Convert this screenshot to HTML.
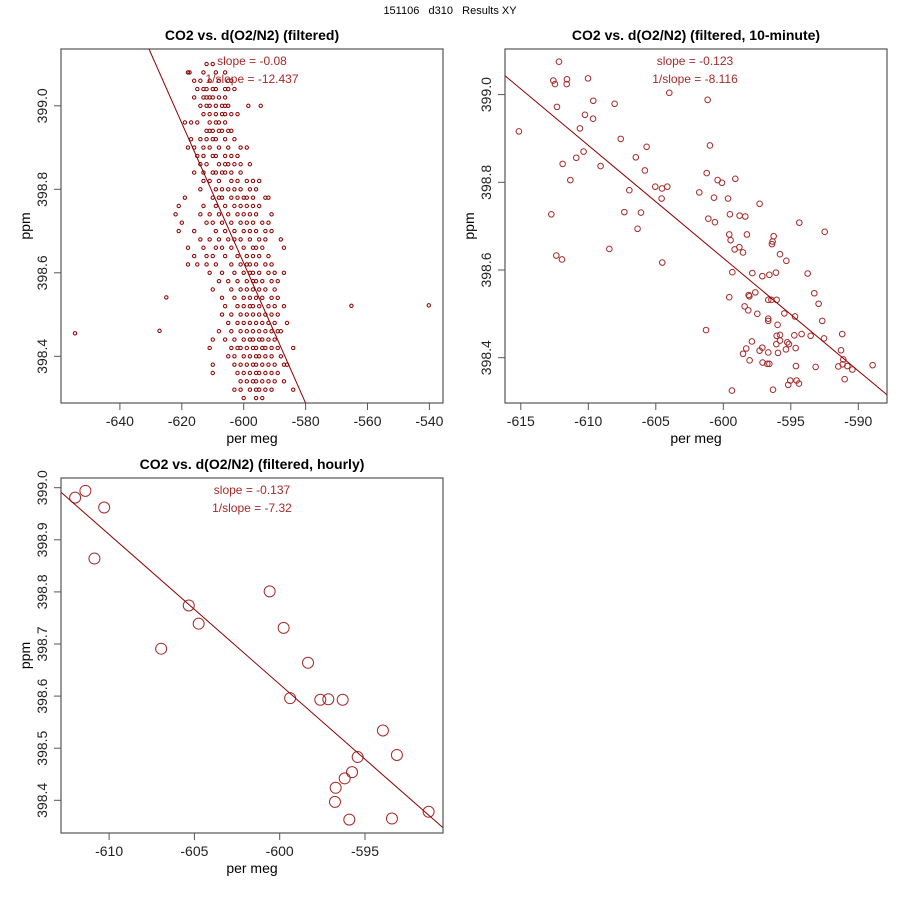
<!DOCTYPE html>
<html><head><meta charset="utf-8"><style>
body{margin:0;background:#fff;}
svg{display:block;font-family:"Liberation Sans",sans-serif;}
</style></head><body>
<svg id="chart" width="900" height="900" viewBox="0 0 900 900">
<text x="450" y="14" font-size="11" text-anchor="middle" fill="#000" style="white-space:pre" xml:space="preserve">151106   d310   Results XY</text>
</svg>
<script>
// Panel 1 data: rows of y with x values
const p1RowY = [399.10,399.08,399.06,399.04,399.02,399.00,398.98,398.96,398.94,398.92,398.90,398.88,398.86,398.84,398.82,398.80,398.78,398.76,398.74,398.72,398.70,398.68,398.66,398.64,398.62,398.60,398.58,398.56,398.54,398.52,398.50,398.48,398.46,398.44,398.42,398.40,398.38,398.36,398.34,398.32,398.30];
const p1RowX = [
[-612,-610],
[-618,-617.5,-613,-609,-606],
[-616,-614,-611,-608,-604,-605],
[-615,-613,-612,-610,-609,-606,-605,-603],
[-616,-613,-612,-611,-610,-608,-606],
[-614,-612,-611,-607,-606,-605,-609,-598.5,-594.5],
[-613,-611,-609,-607,-606,-602,-604],
[-619,-617,-615,-611,-609,-608,-606],
[-612,-611,-610,-608,-607,-605,-604],
[-617,-614,-612,-610,-609,-606,-603],
[-618,-616,-613,-611,-608,-605,-601,-599],
[-615,-613,-610,-609,-606,-604,-602],
[-614,-612,-608,-606,-605,-603,-601,-598],
[-616,-613,-610,-609,-607,-606,-604,-601],
[-613,-611,-608,-604,-602,-599,-597,-595],
[-614,-609,-607,-605,-603,-601,-598,-596],
[-619,-610,-608,-607,-604,-602,-600,-599,-597,-593,-592],
[-621,-613,-609,-606,-603,-601,-599,-597,-595],
[-622,-614,-611,-608,-605,-602,-600,-598,-596,-591],
[-620,-612,-610,-607,-604,-601,-599,-597,-594,-592],
[-621,-616,-609,-606,-603,-600,-598,-596,-593,-591],
[-614,-611,-608,-605,-603,-601,-598,-595,-593,-588],
[-618,-613,-609,-607,-604,-600,-597,-596,-594,-587],
[-616,-612,-610,-606,-602,-599,-597,-595,-592],
[-618,-615,-612,-609,-604,-601,-599,-598,-596,-593,-591],
[-611,-607,-603,-600,-598,-597,-595,-592,-590,-587],
[-608,-605,-602,-599,-597,-596,-594,-591,-589],
[-610,-604,-601,-599,-597,-595,-593,-590],
[-607,-603,-600,-598,-596,-594,-591,-589],
[-606,-602,-600,-598,-597,-595,-592,-590,-587],
[-607,-604,-601,-599,-597,-595,-593,-591,-589],
[-605,-602,-600,-598,-596,-594,-592,-590,-586],
[-608,-604,-601,-599,-597,-595,-593,-591,-589,-588],
[-606,-603,-600,-598,-597,-595,-594,-592,-590,-610],
[-604,-602,-601,-599,-597,-596,-594,-593,-591,-589,-584,-611],
[-605,-603,-600,-598,-596,-595,-593,-591,-588],
[-603,-601,-599,-597,-596,-594,-592,-590,-587,-586,-610],
[-602,-600,-598,-596,-595,-593,-591,-589,-610],
[-601,-599,-597,-596,-594,-592,-590,-587],
[-603,-601,-598,-596,-595,-593,-591,-584],
[-600,-596,-594]
];
const p1OutX = [-654.5,-627.2,-625.0,-565.2,-540.2];
const p1OutY = [398.455,398.461,398.541,398.521,398.522];
const p1LineX = [-630.6,-580.0];
const p1LineY = [399.136,398.288];
const p1XTicks = [-640,-620,-600,-580,-560,-540];
const p1YTicks = [398.4,398.6,398.8,399.0];

// Panel 2 data
const p2X = [-615.14,-612.17,-612.59,-612.47,-611.58,-611.60,-610.02,-612.32,-609.63,-608.05,-610.25,-609.65,-610.62,-604.0,-601.16,-607.60,-605.68,-600.99,-610.35,-610.89,-606.48,-611.90,-609.09,-605.81,-611.33,-601.23,-599.11,-600.42,-600.10,-605.04,-604.54,-604.15,-606.96,-601.78,-604.57,-600.69,-599.65,-597.31,-612.74,-607.33,-606.10,-601.11,-600.62,-599.51,-598.79,-598.37,-594.37,-592.49,-606.35,-599.56,-598.25,-596.27,-599.46,-596.35,-596.40,-608.44,-599.16,-598.81,-598.54,-595.80,-612.37,-611.95,-604.52,-595.33,-599.33,-597.85,-597.11,-596.59,-596.10,-593.75,-599.56,-598.12,-598.07,-597.63,-596.67,-596.44,-596.05,-593.26,-592.94,-598.42,-598.15,-597.48,-595.48,-594.69,-596.67,-596.67,-592.67,-595.98,-601.28,-591.19,-596.05,-595.80,-594.74,-594.20,-593.53,-592.54,-595.80,-597.88,-596.07,-595.26,-595.14,-598.30,-597.11,-597.31,-595.36,-594.64,-591.28,-598.54,-596.67,-595.95,-598.05,-591.11,-597.09,-596.74,-596.59,-594.62,-593.16,-591.48,-591.16,-590.81,-590.44,-588.94,-591.01,-595.04,-594.57,-595.19,-594.40,-599.36,-596.32];
const p2Y = [398.916,399.075,399.032,399.024,399.035,399.024,399.037,398.972,398.986,398.979,398.954,398.945,398.923,399.004,398.988,398.899,398.881,398.884,398.870,398.856,398.857,398.842,398.837,398.827,398.805,398.821,398.808,398.805,398.799,398.790,398.786,398.790,398.782,398.777,398.763,398.765,398.763,398.751,398.727,398.732,398.731,398.717,398.709,398.727,398.724,398.722,398.708,398.687,398.694,398.681,398.681,398.677,398.668,398.665,398.659,398.648,398.647,398.652,398.640,398.636,398.633,398.624,398.617,398.621,398.595,398.593,398.586,398.589,398.594,398.592,398.538,398.543,398.540,398.549,398.532,398.532,398.532,398.547,398.523,398.517,398.508,398.500,398.501,398.494,398.489,398.484,398.484,398.475,398.463,398.454,398.450,398.452,398.451,398.454,398.450,398.444,398.439,398.437,398.431,398.435,398.431,398.421,398.423,398.416,398.419,398.422,398.417,398.409,398.412,398.411,398.394,398.396,398.389,398.386,398.386,398.381,398.379,398.380,398.385,398.381,398.373,398.383,398.351,398.348,398.348,398.338,398.341,398.325,398.327];
const p2LineX = [-616.17,-587.90];
const p2LineY = [399.043,398.316];
const p2XTicks = [-615,-610,-605,-600,-595,-590];
const p2YTicks = [398.4,398.6,398.8,399.0];

// Panel 3 data
const p3X = [-611.99,-611.39,-610.29,-610.86,-605.33,-604.75,-606.95,-600.59,-599.77,-598.34,-599.39,-597.62,-597.15,-596.31,-593.95,-593.13,-595.43,-595.76,-596.19,-596.72,-596.76,-595.92,-593.42,-591.27];
const p3Y = [398.981,398.994,398.962,398.864,398.774,398.739,398.691,398.801,398.731,398.664,398.596,398.593,398.594,398.593,398.534,398.487,398.483,398.454,398.442,398.424,398.397,398.363,398.365,398.378];
const p3LineX = [-612.81,-590.45];
const p3LineY = [398.991,398.348];
const p3XTicks = [-610,-605,-600,-595];
const p3YTicks = [398.4,398.5,398.6,398.7,398.8,398.9,399.0];

const NS = "http://www.w3.org/2000/svg";
const svg = document.getElementById('chart');
function mk(tag, attrs, parent){
  const e = document.createElementNS(NS, tag);
  for (const k in attrs) e.setAttribute(k, attrs[k]);
  (parent||svg).appendChild(e);
  return e;
}

function panel(cfg){
  const g = mk('g', {});
  
  
  const sx = v => cfg.x0px + (v - cfg.x0) * cfg.kx;
  const sy = v => cfg.y0px - (v - cfg.y0) * cfg.ky;
  const b = cfg.box;
  const t = mk('text', {x:(b[0]+b[2])/2, y:b[1]-9, 'font-size':14, 'font-weight':'bold', 'text-anchor':'middle'}, g);
  t.textContent = cfg.title;
  
  
  const frame = mk('rect', {x:b[0], y:b[1], width:b[2]-b[0], height:b[3]-b[1], fill:'none', stroke:'#555', 'stroke-width':1.2}, g);
  
  
  const xa = mk('g', {}, g);
  
  
  cfg.xt.forEach(v => {
    const x = sx(v);
    mk('line', {x1:x, x2:x, y1:b[3], y2:b[3]+7, stroke:'#555'}, xa);
    const tl = mk('text', {x:x, y:b[3]+23, 'font-size':14, 'text-anchor':'middle', fill:'#222'}, xa);
    tl.textContent = v;
    
    
  });
  const xl = mk('text', {x:(b[0]+b[2])/2, y:b[3]+40, 'font-size':14, 'text-anchor':'middle'}, g);
  xl.textContent = 'per meg';
  
  
  const ya = mk('g', {}, g);
  
  
  cfg.yt.forEach(v => {
    const y = sy(v);
    mk('line', {x1:b[0]-7, x2:b[0], y1:y, y2:y, stroke:'#555'}, ya);
    const tl = mk('text', {x:0, y:0, 'font-size':14, 'text-anchor':'middle', fill:'#222', transform:`translate(${b[0]-14},${y}) rotate(-90)`}, ya);
    tl.textContent = v.toFixed(1);
    
    
  });
  const yl = mk('text', {x:0, y:0, 'font-size':14, 'text-anchor':'middle', transform:`translate(${b[0]-31},${(b[1]+b[3])/2}) rotate(-90)`}, g);
  yl.textContent = 'ppm';
  
  
  const cid = cfg.name + '-clip';
  const cp = mk('clipPath', {id:cid}, g);
  mk('rect', {x:b[0], y:b[1], width:b[2]-b[0], height:b[3]-b[1]}, cp);
  const pts = mk('g', {'clip-path':`url(#${cid})`}, g);
  
  
  cfg.xs.forEach((v, i) => {
    const c = mk('circle', {cx:sx(v), cy:sy(cfg.ys[i]), r:cfg.r, fill:'none', stroke:cfg.col, 'stroke-width':cfg.sw}, pts);
    
    
  });
  const ln = mk('line', {x1:sx(cfg.lx[0]), y1:sy(cfg.ly[0]), x2:sx(cfg.lx[1]), y2:sy(cfg.ly[1]), stroke:'#8b0000', 'stroke-width':1, 'clip-path':`url(#${cid})`}, g);
  
  
  const s1 = mk('text', {x:cfg.tx, y:b[1]+16, 'font-size':12, 'text-anchor':'middle', fill:'#a52a2a'}, g);
  s1.textContent = 'slope = ' + cfg.slope;
  
  
  const s2 = mk('text', {x:cfg.tx, y:b[1]+34, 'font-size':12, 'text-anchor':'middle', fill:'#a52a2a'}, g);
  s2.textContent = '1/slope = ' + cfg.islope;
  
  
}

const p1xs = [], p1ys = [];
p1RowY.forEach((y, i) => p1RowX[i].forEach(x => { p1xs.push(x); p1ys.push(y); }));
p1OutX.forEach((x, i) => { p1xs.push(x); p1ys.push(p1OutY[i]); });

panel({name:'panel-filtered', title:'CO2 vs. d(O2/N2) (filtered)', box:[61,49,443,403],
  x0:-600, x0px:243.7, kx:61.9/20, y0:398.4, y0px:356.3, ky:83.5/0.2,
  xt:p1XTicks, yt:p1YTicks, xs:p1xs, ys:p1ys, r:1.7, sw:1, col:'#8b0000',
  lx:p1LineX, ly:p1LineY, tx:252, slope:'-0.08', islope:'-12.437'});
panel({name:'panel-10-minute', title:'CO2 vs. d(O2/N2) (filtered, 10-minute)', box:[505,49,887,403],
  x0:-600, x0px:723.3, kx:67.5/5, y0:398.4, y0px:357.7, ky:87.7/0.2,
  xt:p2XTicks, yt:p2YTicks, xs:p2X, ys:p2Y, r:2.8, sw:1, col:'#a52a2a',
  lx:p2LineX, ly:p2LineY, tx:695, slope:'-0.123', islope:'-8.116'});
panel({name:'panel-hourly', title:'CO2 vs. d(O2/N2) (filtered, hourly)', box:[61,478,443,833],
  x0:-600, x0px:279.7, kx:85.3/5, y0:398.4, y0px:800.3, ky:52.1/0.1,
  xt:p3XTicks, yt:p3YTicks, xs:p3X, ys:p3Y, r:5.5, sw:1, col:'#a52a2a',
  lx:p3LineX, ly:p3LineY, tx:252, slope:'-0.137', islope:'-7.32'});
</script>
</body></html>
